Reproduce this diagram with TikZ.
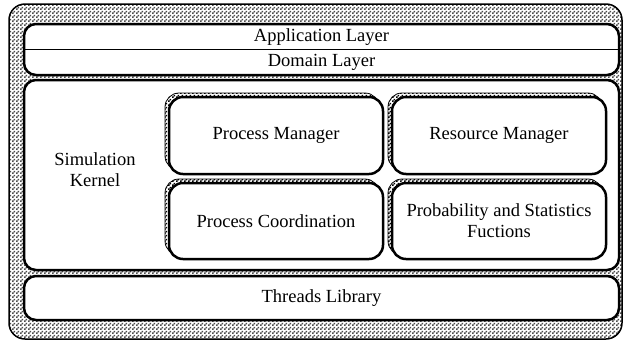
\documentclass[tikz,border=0pt]{standalone}
\usepackage{fontspec}
\setmainfont{Liberation Serif}
\usetikzlibrary{patterns,shadows}
\pgfdeclarepatternformonly{finechecker}{\pgfqpoint{0pt}{0pt}}{\pgfqpoint{4pt}{4pt}}{\pgfqpoint{4pt}{4pt}}{%
  \pgfpathrectangle{\pgfqpoint{0pt}{0pt}}{\pgfqpoint{2pt}{2pt}}%
  \pgfpathrectangle{\pgfqpoint{2pt}{2pt}}{\pgfqpoint{2pt}{2pt}}%
  \pgfusepath{fill}}
\begin{document}
\begin{tikzpicture}[x=1pt,y=-1pt,
  txt/.style={font=\fontsize{18.5}{21}\selectfont, inner sep=0pt, align=center},
  frame/.style={draw, line width=1.5pt, rounded corners=16pt,
    preaction={fill=white}, pattern=finechecker, pattern color=black!70,
    inner sep=0pt, outer sep=0pt},
  layer/.style={draw, fill=white, line width=2.5pt, rounded corners=12pt,
    inner sep=0pt, outer sep=0pt, minimum width=595pt, txt},
  comp/.style={draw, fill=white, line width=2.5pt, rounded corners=14pt,
    inner sep=0pt, outer sep=0pt, minimum width=214pt, txt,
    general shadow={shadow xshift=-4pt, shadow yshift=4pt, draw=black,
      line width=0.8pt, pattern=finechecker, pattern color=black}}
]
\useasboundingbox (0,0) rectangle (623,341);
% outer frame
\node[frame, minimum width=613pt, minimum height=335pt] (outer) at (315.5,171.5) {};
% layers
\node[layer, minimum height=51pt] (top) at (321.5,49.5) {};
\draw[line width=1.5pt] (top.west) -- (top.east);
\node[txt] (app) at (321.5,37) {Application Layer};
\node[txt] (dom) at (321.5,62.5) {Domain Layer};
\node[layer, minimum height=190pt] (kernel) at (321.5,175) {};
\node[txt] (kl) at (95,170) {Simulation\\Kernel};
\node[layer, minimum height=44pt] (threads) at (321.5,298) {Threads Library};
% components
\node[comp, minimum height=77pt] (pm) at (276,135.5) {Process Manager};
\node[comp, minimum height=77pt] (rm) at (499,135.5) {Resource Manager};
\node[comp, minimum height=76pt] (pc) at (276,221) {Process Coordination};
\node[comp, minimum height=76pt] (ps) at (499,221) {Probability and Statistics\\Fuctions};
\end{tikzpicture}
\end{document}
